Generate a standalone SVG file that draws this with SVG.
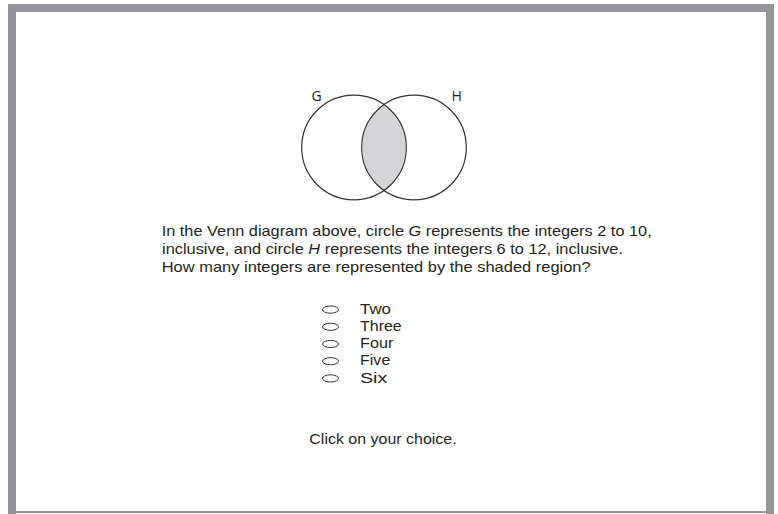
<svg xmlns="http://www.w3.org/2000/svg" width="778" height="514" viewBox="0 0 778 514">
<style>
.frame{fill:#939598}
.circ{fill:none;stroke:#333333;stroke-width:1.2}
.lens{fill:#d4d4d6;stroke:none}
.lbl{font-family:"Open Sans","DejaVu Sans",sans-serif;font-size:14px;fill:#231f20}
.txt{font-family:"Liberation Sans",Arial,sans-serif;font-size:15px;fill:#231f20}
.opt{fill:none;stroke:#333333;stroke-width:1}
</style>
<rect width="778" height="514" fill="#ffffff"/>
<g id="frame">
<rect class="frame" x="8" y="4" width="766" height="8"/>
<rect class="frame" x="8" y="4" width="8" height="510"/>
<rect class="frame" x="766" y="4" width="8" height="510"/>
<rect class="frame" x="8" y="511" width="766" height="2"/>
</g>
<g id="venn">
<path class="lens" d="M384 105.3 A52.3 52.3 0 0 1 384 189.7 A52.3 52.3 0 0 1 384 105.3 Z"/>
<circle id="circleG" class="circ" cx="354" cy="147.5" r="52.3"/>
<circle id="circleH" class="circ" cx="414" cy="147.5" r="52.3"/>
<text class="lbl" x="311.5" y="101">G</text>
<text class="lbl" x="451.5" y="101">H</text>
</g>
<g id="question">
<text class="txt" x="161.7" y="235.7" textLength="490" lengthAdjust="spacingAndGlyphs">In the Venn diagram above, circle <tspan font-style="italic">G</tspan> represents the integers 2 to 10,</text>
<text class="txt" x="162" y="254" textLength="461" lengthAdjust="spacingAndGlyphs">inclusive, and circle <tspan font-style="italic">H</tspan> represents the integers 6 to 12, inclusive.</text>
<text class="txt" x="161.7" y="272.3" textLength="429" lengthAdjust="spacingAndGlyphs">How many integers are represented by the shaded region?</text>
</g>
<g id="options">
<ellipse class="opt" cx="330.5" cy="309.6" rx="8" ry="3.6"/>
<text class="txt" x="360" y="313.7" textLength="31" lengthAdjust="spacingAndGlyphs">Two</text>
<ellipse class="opt" cx="330.5" cy="326.8" rx="8" ry="3.6"/>
<text class="txt" x="360" y="330.9" textLength="41.7" lengthAdjust="spacingAndGlyphs">Three</text>
<ellipse class="opt" cx="330.5" cy="344" rx="8" ry="3.6"/>
<text class="txt" x="360" y="348.1" textLength="33.3" lengthAdjust="spacingAndGlyphs">Four</text>
<ellipse class="opt" cx="330.5" cy="361.2" rx="8" ry="3.6"/>
<text class="txt" x="360" y="365.3" textLength="30.3" lengthAdjust="spacingAndGlyphs">Five</text>
<ellipse class="opt" cx="330.5" cy="378.4" rx="8" ry="3.6"/>
<text class="txt" x="360" y="382.5" textLength="27.3" lengthAdjust="spacingAndGlyphs">Six</text>
</g>
<g id="prompt">
<text class="txt" x="309.3" y="444.3" textLength="147.4" lengthAdjust="spacingAndGlyphs">Click on your choice.</text>
</g>
</svg>
